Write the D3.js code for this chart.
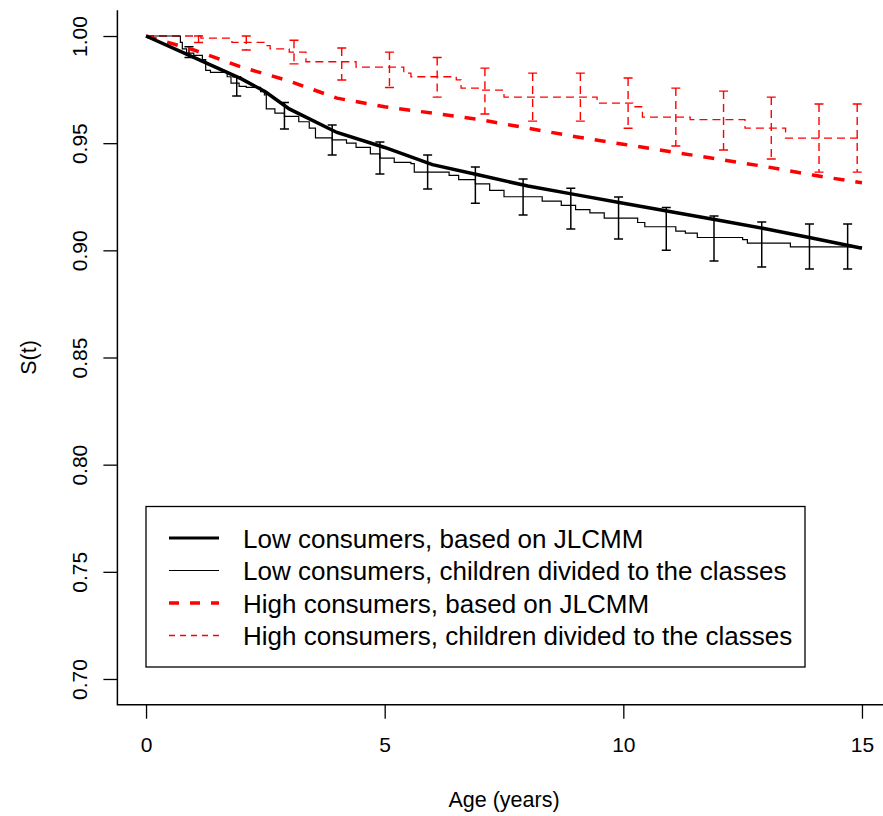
<!DOCTYPE html>
<html>
<head>
<meta charset="utf-8">
<script src="https://cdn.jsdelivr.net/npm/d3@7"></script>
<style>
  body { margin: 0; background: #fff; }
  svg { display: block; font-family: "Liberation Sans", Arial, Helvetica, sans-serif; }
</style>
</head>
<body>
<div class="canvas"></div>
<script>
// fitted curves (JLCMM)
const lowFitT = [0, 1, 2, 2.5, 3, 4, 5, 6, 7, 8, 9, 10, 11, 12, 13, 14, 15];
const lowFitS = [1, 0.990, 0.980, 0.974, 0.966, 0.955, 0.948, 0.940, 0.935, 0.930, 0.926, 0.922, 0.918, 0.914, 0.910, 0.9055, 0.901];
const highFitT = [0, 1, 2, 3, 4, 5, 6, 7, 8, 9, 10, 11, 12, 13, 14, 15];
const highFitS = [1, 0.9935, 0.9855, 0.979, 0.971, 0.967, 0.964, 0.961, 0.957, 0.953, 0.9495, 0.946, 0.9425, 0.939, 0.935, 0.9315];

// Kaplan-Meier steps (children divided to the classes)
const lowKmT = [0, 0.72, 0.76, 0.85, 1.0, 1.18, 1.25, 1.35, 1.7, 1.78, 1.95, 2.1, 2.4, 2.48, 2.52, 2.7, 2.9, 3.2, 3.42, 3.55, 3.9, 4.2, 4.4, 4.7, 4.9, 5.2, 5.55, 5.62, 6.25, 6.35, 6.55, 6.9, 7.2, 7.5, 8.3, 8.7, 9.0, 9.3, 9.6, 10.3, 10.45, 11.1, 11.3, 11.55, 12.5, 12.6, 13.5, 15];
const lowKmS = [1, 0.997, 0.994, 0.992, 0.991, 0.989, 0.984, 0.983, 0.981, 0.978, 0.9765, 0.976, 0.974, 0.9725, 0.966, 0.964, 0.9625, 0.96, 0.957, 0.9525, 0.9515, 0.95, 0.948, 0.945, 0.943, 0.941, 0.9405, 0.9365, 0.9365, 0.935, 0.933, 0.931, 0.928, 0.925, 0.923, 0.921, 0.919, 0.9175, 0.915, 0.913, 0.911, 0.909, 0.908, 0.906, 0.905, 0.9034, 0.9016, 0.9016];
const highKmT = [0, 1.15, 1.8, 2.5, 2.6, 3.0, 3.35, 4.4, 5.4, 5.55, 6.5, 6.6, 7.0, 7.5, 9.45, 10.2, 10.4, 11.4, 12.55, 13.4, 15];
const highKmS = [1, 0.999, 0.997, 0.9955, 0.994, 0.9925, 0.988, 0.9855, 0.9827, 0.981, 0.9795, 0.9757, 0.9748, 0.9715, 0.9687, 0.967, 0.9622, 0.961, 0.957, 0.9524, 0.9524];

// confidence bars
const lowBarT = [0.9, 1.9, 2.9, 3.9, 4.9, 5.9, 6.9, 7.9, 8.9, 9.9, 10.9, 11.9, 12.9, 13.9, 14.7];
const lowBarLo = [0.990, 0.972, 0.9566, 0.9445, 0.9356, 0.9286, 0.922, 0.9165, 0.910, 0.9053, 0.900, 0.895, 0.8922, 0.8913, 0.8913];
const lowBarHi = [0.995, 0.981, 0.969, 0.9585, 0.9505, 0.9445, 0.9389, 0.9333, 0.929, 0.9249, 0.920, 0.916, 0.9132, 0.9123, 0.9123];
const highBarT = [1.1, 2.1, 3.1, 4.1, 5.1, 6.1, 7.1, 8.1, 9.1, 10.1, 11.1, 12.1, 13.1, 14.1, 14.9];
const highBarLo = [0.997, 0.9935, 0.987, 0.9795, 0.976, 0.9715, 0.9636, 0.9603, 0.9603, 0.957, 0.9487, 0.9468, 0.9426, 0.9365, 0.9365];
const highBarHi = [1.0, 1.0, 0.998, 0.9944, 0.9925, 0.990, 0.985, 0.9827, 0.9827, 0.9804, 0.9757, 0.9743, 0.9715, 0.9683, 0.9683];

const xTicks = [0, 5, 10, 15];
const yTicks = [0.70, 0.75, 0.80, 0.85, 0.90, 0.95, 1.00];
const legendLabels = [
  'Low consumers, based on JLCMM',
  'Low consumers, children divided to the classes',
  'High consumers, based on JLCMM',
  'High consumers, children divided to the classes'
];

const width = 883, height = 816;
const svg = d3.select('.canvas').append('svg').attr('width', width).attr('height', height);

const x = d3.scaleLinear().domain([-0.6, 15.6]).range([117.4, 890.6]);
const y = d3.scaleLinear().domain([0.688, 1.012]).range([704.7, 10.3]);

const red = '#ff0000';
const thinDash = '8,5';
const thickDash = '11,11';

// box (left + bottom)
svg.append('path')
  .attr('d', `M${x(-0.6)},${y(1.012)}V${y(0.688)}H${x(15.6)}`)
  .attr('fill', 'none').attr('stroke', '#000').attr('stroke-width', 1.5);

const yAxis = svg.append('g')
  .attr('transform', `translate(${x(-0.6)},0)`)
  .call(d3.axisLeft(y).tickValues(yTicks).tickFormat(d3.format('.2f')).tickSize(14).tickPadding(0));
yAxis.select('.domain').remove();
yAxis.selectAll('line').attr('stroke-width', 1.3);
yAxis.selectAll('text')
  .attr('x', null).attr('dy', null)
  .attr('transform', 'translate(-30,0) rotate(-90)')
  .attr('text-anchor', 'middle')
  .style('font-size', '21px').attr('fill', '#000');

const xAxis = svg.append('g')
  .attr('transform', `translate(0,${y(0.688)})`)
  .call(d3.axisBottom(x).tickValues(xTicks).tickSize(14).tickPadding(0));
xAxis.select('.domain').remove();
xAxis.selectAll('line').attr('stroke-width', 1.3);
xAxis.selectAll('text')
  .attr('y', 47).attr('dy', null)
  .style('font-size', '21px').attr('fill', '#000');

svg.append('text')
  .attr('x', x(7.5)).attr('y', 807)
  .attr('text-anchor', 'middle').style('font-size', '21.5px')
  .text('Age (years)');

svg.append('text')
  .attr('transform', `translate(36,${y(0.85)}) rotate(-90)`)
  .attr('text-anchor', 'middle').style('font-size', '21.5px')
  .text('S(t)');

const line = d3.line().x(d => x(d[0])).y(d => y(d[1]));
const step = d3.line().x(d => x(d[0])).y(d => y(d[1])).curve(d3.curveStepAfter);
const zip = (a, b) => a.map((v, i) => [v, b[i]]);

// error bars
const drawBars = (ts, lo, hi, color, sw, dash) => {
  const g = svg.append('g').attr('stroke', color).attr('stroke-width', sw).attr('fill', 'none');
  ts.forEach((t, i) => {
    const cx = x(t);
    g.append('path')
      .attr('d', `M${cx},${y(hi[i])}V${y(lo[i])}`)
      .attr('stroke-dasharray', dash);
    g.append('path')
      .attr('d', `M${cx - 4.5},${y(hi[i])}H${cx + 4.5}M${cx - 4.5},${y(lo[i])}H${cx + 4.5}`);
  });
};

drawBars(highBarT, highBarLo, highBarHi, red, 1.4, thinDash);
drawBars(lowBarT, lowBarLo, lowBarHi, '#000', 1.5, null);

svg.append('path').datum(zip(highKmT, highKmS))
  .attr('d', step).attr('fill', 'none').attr('stroke', red)
  .attr('stroke-width', 1.3).attr('stroke-dasharray', thinDash);
svg.append('path').datum(zip(lowKmT, lowKmS))
  .attr('d', step).attr('fill', 'none').attr('stroke', '#000').attr('stroke-width', 1.2);
svg.append('path').datum(zip(highFitT, highFitS))
  .attr('d', line).attr('fill', 'none').attr('stroke', red)
  .attr('stroke-width', 3.5).attr('stroke-dasharray', thickDash);
svg.append('path').datum(zip(lowFitT, lowFitS))
  .attr('d', line).attr('fill', 'none').attr('stroke', '#000').attr('stroke-width', 3.5);

// legend
const legend = svg.append('g');
legend.append('rect')
  .attr('x', 146).attr('y', 506.5).attr('width', 659).attr('height', 160.5)
  .attr('fill', '#fff').attr('stroke', '#000').attr('stroke-width', 1.3);
const legStyles = [
  { color: '#000', w: 3, dash: null },
  { color: '#000', w: 1.2, dash: null },
  { color: red, w: 3.5, dash: '10,11' },
  { color: red, w: 1.3, dash: '6,5' }
];
legendLabels.forEach((lab, i) => {
  const ry = 538 + i * 32.5;
  legend.append('line')
    .attr('x1', 169).attr('x2', 219).attr('y1', ry).attr('y2', ry)
    .attr('stroke', legStyles[i].color).attr('stroke-width', legStyles[i].w)
    .attr('stroke-dasharray', legStyles[i].dash);
  legend.append('text')
    .attr('x', 243).attr('y', ry + 9.5)
    .style('font-size', '26px')
    .text(lab);
});
</script>
</body>
</html>
